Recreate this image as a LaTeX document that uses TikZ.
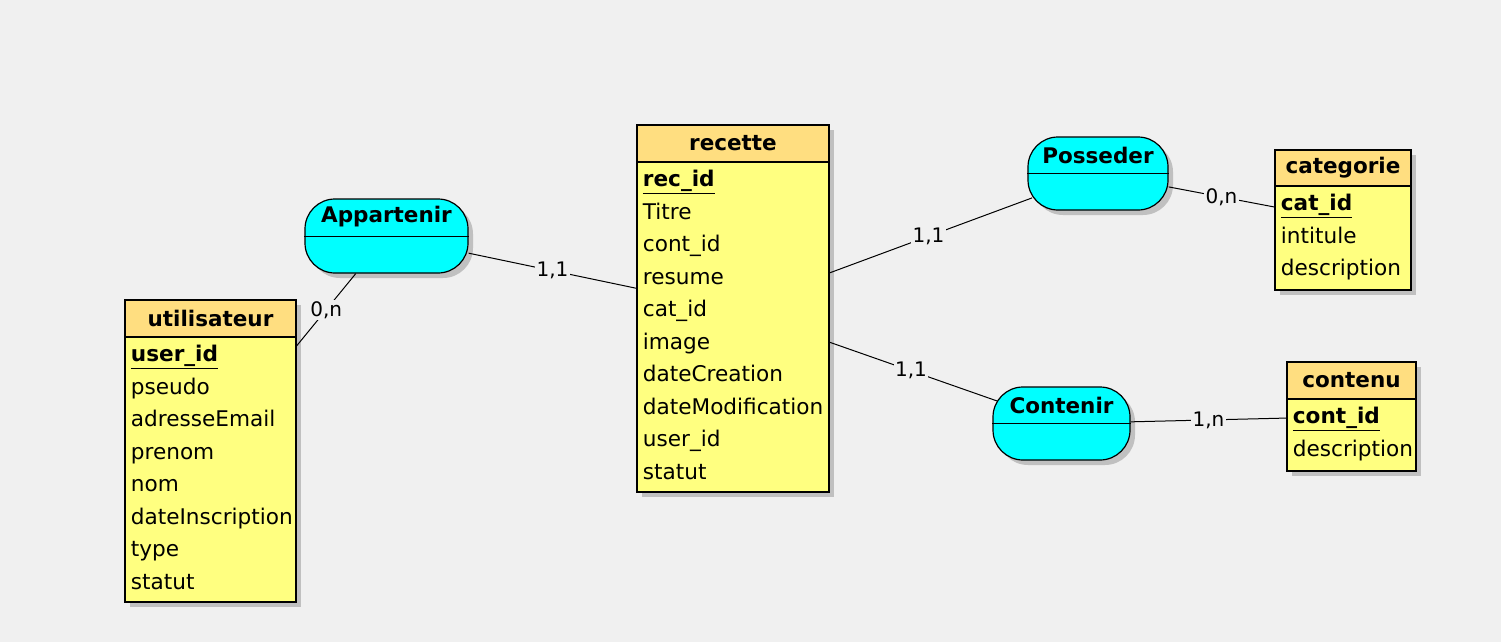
\documentclass[tikz,border=0pt]{standalone}
\usepackage{fontspec}
\setmainfont{DejaVu Sans}
\usetikzlibrary{shadows}
\definecolor{bg}{RGB}{240,240,240}
\definecolor{headcol}{RGB}{255,222,128}
\definecolor{bodycol}{RGB}{255,255,128}
\definecolor{relcol}{RGB}{0,255,255}
\definecolor{shadcol}{RGB}{192,192,192}
\tikzset{
  shade box/.style={drop shadow={shadow xshift=5pt, shadow yshift=-5pt, fill=shadcol, opacity=1}},
  entity/.style={draw, line width=1.2pt, fill=bodycol, shade box, inner sep=0pt},
  enthead/.style={draw, line width=1.2pt, fill=headcol, inner sep=0pt, minimum height=37pt, anchor=north, font=\fontsize{21.5}{25}\selectfont\bfseries},
  attrs/.style={anchor=north west, inner xsep=6pt, inner ysep=7pt, align=left, font=\fontsize{21.6}{32.5}\selectfont},
  relation/.style={draw, line width=1.2pt, fill=relcol, rounded corners=30pt, shade box, inner sep=0pt},
  reltitle/.style={inner sep=0pt, font=\fontsize{21.5}{25}\selectfont\bfseries},
  card/.style={fill=bg, inner sep=1.5pt, font=\fontsize{20}{22}\selectfont},
}
\begin{document}
\begin{tikzpicture}[x=1pt, y=-1pt, line width=1pt]
\fill[bg] (0,0) rectangle (1501,642);
\useasboundingbox (0,0) rectangle (1501,642);

% entites
\node[entity, minimum width=171pt, minimum height=302pt] (utilisateur) at (210.5,451) {};
\node[enthead, minimum width=171pt] (utilisateur-t) at (utilisateur.north) {utilisateur};
\node[attrs] (utilisateur-a) at (utilisateur-t.south west) {\underline{\textbf{user\_id}}\\pseudo\\adresseEmail\\prenom\\nom\\dateInscription\\type\\statut};

\node[entity, minimum width=192pt, minimum height=367pt] (recette) at (733,308.5) {};
\node[enthead, minimum width=192pt] (recette-t) at (recette.north) {recette};
\node[attrs] (recette-a) at (recette-t.south west) {\underline{\textbf{rec\_id}}\\Titre\\cont\_id\\resume\\cat\_id\\image\\dateCreation\\dateModification\\user\_id\\statut};

\node[entity, minimum width=136pt, minimum height=140pt] (categorie) at (1343,220) {};
\node[enthead, minimum width=136pt, minimum height=36pt] (categorie-t) at (categorie.north) {categorie};
\node[attrs] (categorie-a) at (categorie-t.south west) {\underline{\textbf{cat\_id}}\\intitule\\description};

\node[entity, minimum width=129pt, minimum height=109pt] (contenu) at (1351.5,416.5) {};
\node[enthead, minimum width=129pt] (contenu-t) at (contenu.north) {contenu};
\node[attrs] (contenu-a) at (contenu-t.south west) {\underline{\textbf{cont\_id}}\\description};

% associations
\node[relation, minimum width=163pt, minimum height=74pt] (appartenir) at (386.5,236) {};
\draw (appartenir.west) -- (appartenir.east);
\node[reltitle] (appartenir-t) at ([yshift=19pt]appartenir.center) {Appartenir};

\node[relation, minimum width=140pt, minimum height=73pt] (posseder) at (1098,173.5) {};
\draw (posseder.west) -- (posseder.east);
\node[reltitle] (posseder-t) at ([yshift=18.5pt]posseder.center) {Posseder};

\node[relation, minimum width=137pt, minimum height=73pt] (contenir) at (1061.5,423.5) {};
\draw (contenir.west) -- (contenir.east);
\node[reltitle] (contenir-t) at ([yshift=18.5pt]contenir.center) {Contenir};

% liens
\draw (appartenir) -- node[card] (c1) {0,n} (utilisateur);
\draw (appartenir) -- node[card] (c2) {1,1} (recette);
\draw[shorten <=-5pt] (posseder) -- node[card] (c3) {1,1} (recette);
\draw (posseder) -- node[card] (c4) {0,n} (categorie);
\draw[shorten <=-5pt] (contenir) -- node[card] (c5) {1,1} (recette);
\draw (contenir) -- node[card] (c6) {1,n} (contenu);
\end{tikzpicture}
\end{document}
